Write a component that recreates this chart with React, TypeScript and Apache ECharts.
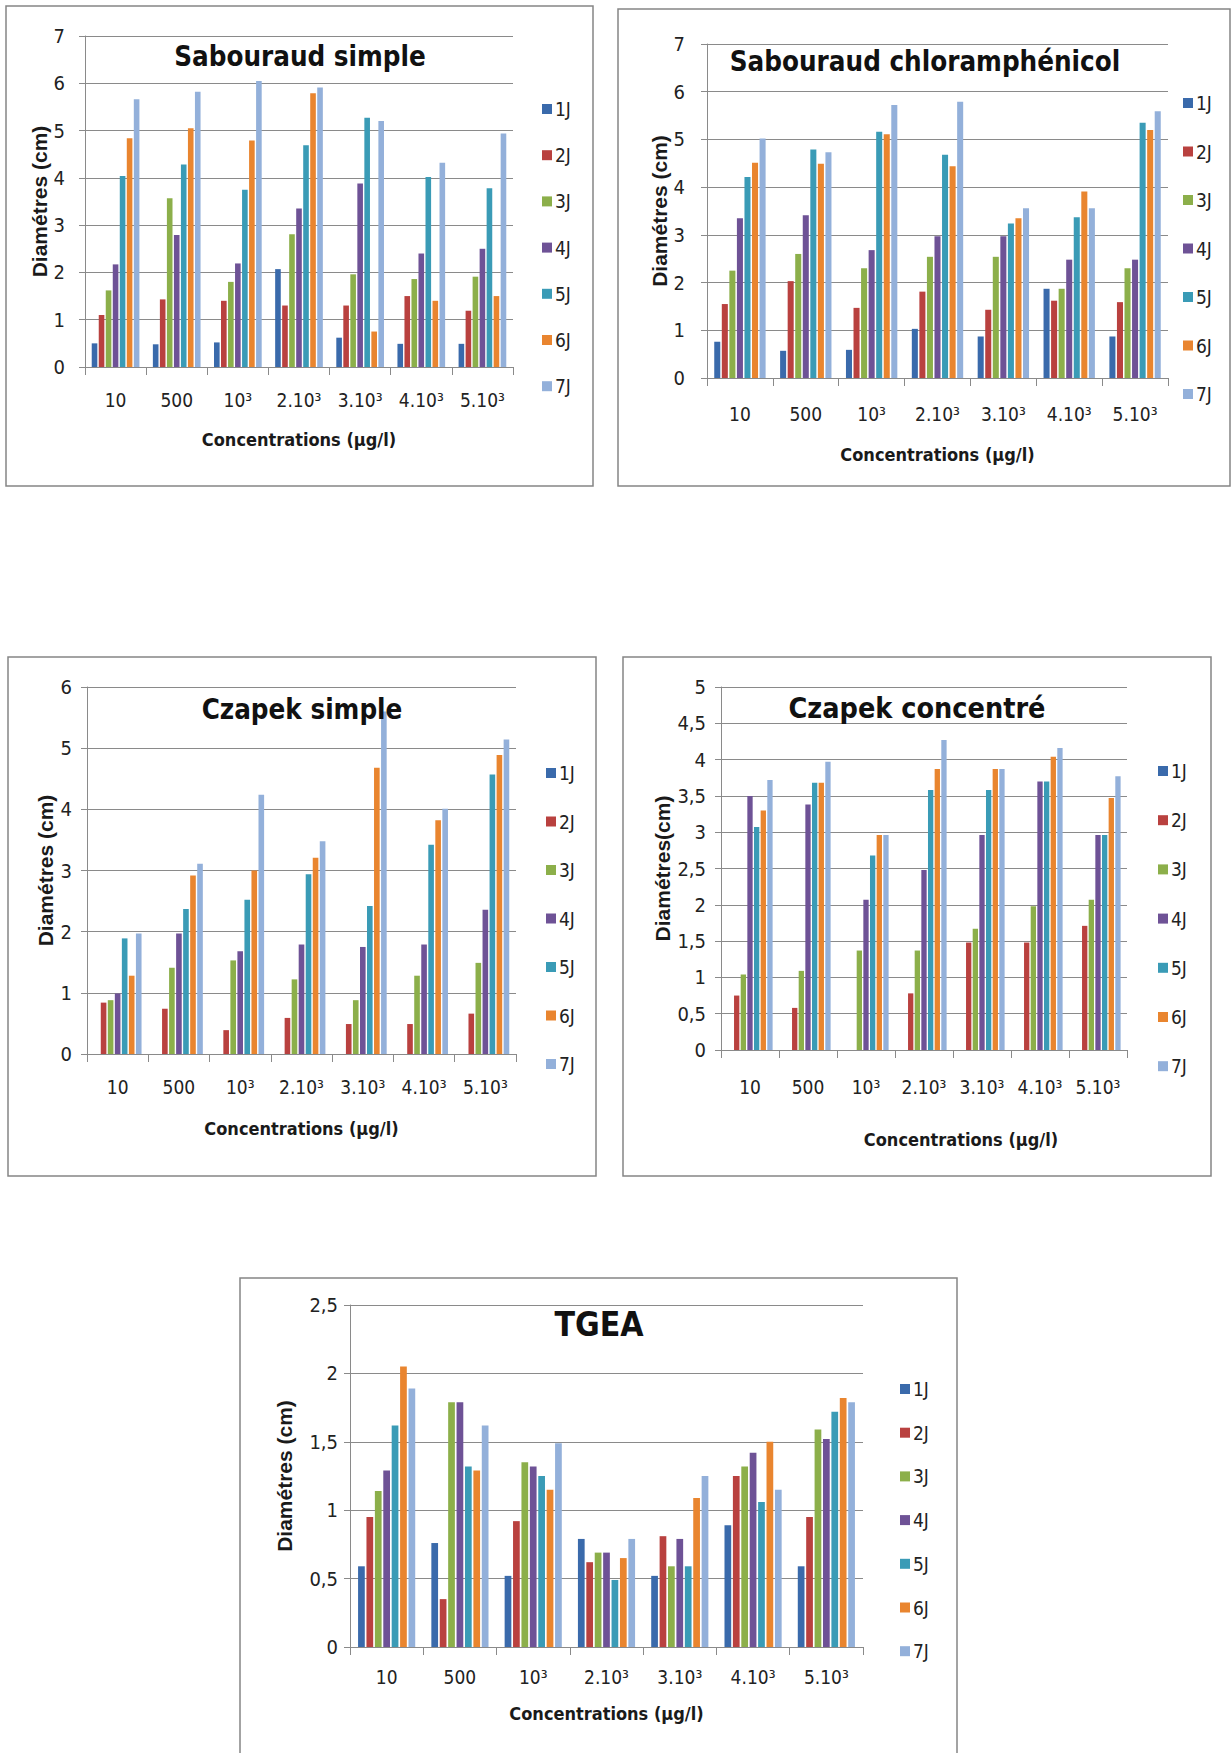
import React, { useEffect, useRef } from 'react';
import * as echarts from 'echarts';

// ---------- data ----------
const categories = ['10', '500', '10³', '2.10³', '3.10³', '4.10³', '5.10³'];
const seriesNames = ['1J', '2J', '3J', '4J', '5J', '6J', '7J'];
const seriesColors = ['#3A6AAB', '#B9413F', '#8CAF4A', '#6E5296', '#3A9BB6', '#E9852F', '#93B0DA'];

// rows = series 1J..7J, columns = categories
const sabouraudSimple = [
  [0.5, 0.48, 0.52, 2.07, 0.62, 0.49, 0.49],
  [1.1, 1.43, 1.4, 1.3, 1.3, 1.5, 1.19],
  [1.62, 3.57, 1.8, 2.81, 1.96, 1.86, 1.91],
  [2.17, 2.79, 2.19, 3.35, 3.88, 2.4, 2.5],
  [4.04, 4.28, 3.75, 4.69, 5.27, 4.02, 3.78],
  [4.84, 5.05, 4.79, 5.79, 0.75, 1.4, 1.5],
  [5.66, 5.82, 6.05, 5.91, 5.2, 4.32, 4.94],
];
const sabouraudChloramphenicol = [
  [0.76, 0.57, 0.59, 1.03, 0.87, 1.87, 0.87],
  [1.55, 2.03, 1.47, 1.81, 1.43, 1.62, 1.59],
  [2.25, 2.6, 2.3, 2.54, 2.54, 1.87, 2.3],
  [3.35, 3.41, 2.68, 2.97, 2.97, 2.48, 2.48],
  [4.21, 4.79, 5.16, 4.68, 3.24, 3.37, 5.35],
  [4.51, 4.49, 5.11, 4.44, 3.35, 3.91, 5.2],
  [5.02, 4.73, 5.72, 5.79, 3.56, 3.56, 5.59],
];
const czapekSimple = [
  [0, 0, 0, 0, 0, 0, 0],
  [0.84, 0.74, 0.39, 0.59, 0.49, 0.49, 0.66],
  [0.88, 1.41, 1.53, 1.22, 0.88, 1.28, 1.49],
  [0.99, 1.97, 1.68, 1.79, 1.75, 1.79, 2.36],
  [1.89, 2.37, 2.52, 2.94, 2.42, 3.42, 4.57],
  [1.28, 2.92, 3.0, 3.21, 4.68, 3.82, 4.89],
  [1.97, 3.11, 4.24, 3.48, 5.6, 4.01, 5.14],
];
const czapekConcentre = [
  [0, 0, 0, 0, 0, 0, 0],
  [0.75, 0.58, 0, 0.78, 1.48, 1.48, 1.71],
  [1.04, 1.09, 1.37, 1.37, 1.67, 1.98, 2.07],
  [3.5, 3.38, 2.07, 2.48, 2.96, 3.7, 2.96],
  [3.07, 3.68, 2.68, 3.58, 3.58, 3.7, 2.96],
  [3.3, 3.68, 2.96, 3.87, 3.87, 4.04, 3.47],
  [3.72, 3.97, 2.96, 4.27, 3.87, 4.16, 3.77],
];
const tgea = [
  [0.59, 0.76, 0.52, 0.79, 0.52, 0.89, 0.59],
  [0.95, 0.35, 0.92, 0.62, 0.81, 1.25, 0.95],
  [1.14, 1.79, 1.35, 0.69, 0.59, 1.32, 1.59],
  [1.29, 1.79, 1.32, 0.69, 0.79, 1.42, 1.52],
  [1.62, 1.32, 1.25, 0.49, 0.59, 1.06, 1.72],
  [2.05, 1.29, 1.15, 0.65, 1.09, 1.5, 1.82],
  [1.89, 1.62, 1.49, 0.79, 1.25, 1.15, 1.79],
];

const chartData = [sabouraudSimple, sabouraudChloramphenicol, czapekSimple, czapekConcentre, tgea];
const chartTitles = ['Sabouraud simple', 'Sabouraud chloramphénicol', 'Czapek simple', 'Czapek concentré', 'TGEA'];
const yAxisNames = ['Diamétres (cm)', 'Diamétres (cm)', 'Diamétres (cm)', 'Diamétres(cm)', 'Diamétres (cm)'];
const xAxisName = 'Concentrations (µg/l)';
const yMax = [7, 7, 6, 5, 2.5];
const yStep = [1, 1, 1, 0.5, 0.5];

// ---------- layout ----------
const NARROW = "'DejaVu Sans Condensed', 'Liberation Sans Narrow', 'Liberation Sans', sans-serif";
const WIDE = "'Liberation Sans', Arial, sans-serif";

const layouts = [
  { box: [6, 6, 587, 480], grid: [85, 36, 428, 331], title: [300, 56, 27.5], legend: [542, 99, 26.2], xMargin: 23, yMargin: 20, yNameGap: 32, xNameGap: 63, xShift: 0 },
  { box: [618, 9, 612, 477], grid: [707, 44, 461, 334], title: [925, 61, 27.5], legend: [1183, 93, 28.5], xMargin: 26, yMargin: 22, yNameGap: 33, xNameGap: 67, xShift: 0 },
  { box: [8, 657, 588, 519], grid: [87, 687, 429, 367], title: [302, 709, 27.5], legend: [546, 763, 28.5], xMargin: 23, yMargin: 15, yNameGap: 31, xNameGap: 65, xShift: 0 },
  { box: [623, 657, 588, 519], grid: [721, 687, 406, 363], title: [917, 709, 28.5], legend: [1158, 761, 29.2], xMargin: 27, yMargin: 15, yNameGap: 48, xNameGap: 80, xShift: 74 },
  { box: [240, 1278, 717, 480], grid: [350, 1305, 513, 342], title: [599, 1325, 33.5], legend: [900, 1379, 23.7], xMargin: 20, yMargin: 12, yNameGap: 55, xNameGap: 57, xShift: 0 },
];

const fmt = (v: number) => String(v).replace('.', ',');

function buildOption() {
  const grid: any[] = [];
  const xAxis: any[] = [];
  const yAxis: any[] = [];
  const title: any[] = [];
  const legend: any[] = [];
  const series: any[] = [];
  const graphic: any[] = [];

  layouts.forEach((L, i) => {
    graphic.push({
      type: 'rect',
      z: -10,
      shape: { x: L.box[0], y: L.box[1], width: L.box[2], height: L.box[3] },
      style: { fill: '#ffffff', stroke: '#858585', lineWidth: 1.5 },
    });
    grid.push({ left: L.grid[0], top: L.grid[1], width: L.grid[2], height: L.grid[3], containLabel: false });
    xAxis.push({
      type: 'category',
      gridIndex: i,
      data: categories,
      boundaryGap: true,
      name: xAxisName,
      nameLocation: 'middle',
      nameGap: L.xNameGap,
      nameTextStyle: { fontFamily: NARROW, fontWeight: 'bold', fontSize: 18, color: '#1a1a1a', padding: [0, 0, 0, L.xShift] },
      axisLine: { show: true, lineStyle: { color: '#8a8a8a', width: 1 } },
      axisTick: { show: true, length: 8, lineStyle: { color: '#8a8a8a' } },
      axisLabel: { fontFamily: NARROW, fontSize: 19, color: '#222', margin: L.xMargin, interval: 0 },
    });
    yAxis.push({
      type: 'value',
      gridIndex: i,
      min: 0,
      max: yMax[i],
      interval: yStep[i],
      name: yAxisNames[i],
      nameLocation: 'middle',
      nameGap: L.yNameGap,
      nameTextStyle: { fontFamily: WIDE, fontWeight: 'bold', fontSize: 21, color: '#1a1a1a' },
      axisLine: { show: true, lineStyle: { color: '#8a8a8a', width: 1 } },
      axisTick: { show: true, length: 6, lineStyle: { color: '#8a8a8a' } },
      splitLine: { show: true, lineStyle: { color: '#8a8a8a', width: 1 } },
      axisLabel: { fontFamily: NARROW, fontSize: 20, color: '#222', margin: L.yMargin, formatter: fmt },
    });
    const fs = L.title[2];
    title.push({
      text: chartTitles[i],
      left: L.title[0],
      top: L.title[1] - fs * 0.6,
      textAlign: 'center',
      padding: 0,
      textStyle: { fontFamily: NARROW, fontWeight: 'bold', fontSize: fs, lineHeight: fs * 1.2, color: '#111' },
    });
    legend.push({
      data: seriesNames,
      orient: 'vertical',
      left: L.legend[0],
      top: L.legend[1],
      itemGap: L.legend[2],
      itemWidth: 10,
      itemHeight: 10,
      icon: 'rect',
      padding: 0,
      selectedMode: false,
      textStyle: { fontFamily: NARROW, fontSize: 19, lineHeight: 20, color: '#222', padding: [0, 0, 0, -2] },
    });
    chartData[i].forEach((row, j) => {
      series.push({
        type: 'bar',
        name: seriesNames[j],
        xAxisIndex: i,
        yAxisIndex: i,
        data: row,
        barGap: '25%',
        barCategoryGap: '22%',
        itemStyle: { color: seriesColors[j] },
      });
    });
  });

  return { animation: false, backgroundColor: '#ffffff', grid, xAxis, yAxis, title, legend, series, graphic };
}

export default function App() {
  const ref = useRef<HTMLDivElement>(null);
  useEffect(() => {
    if (!ref.current) return;
    const chart = echarts.init(ref.current, null, { renderer: 'svg' });
    chart.setOption(buildOption());
    return () => chart.dispose();
  }, []);
  return <div ref={ref} style={{ position: 'absolute', left: 0, top: 0, width: 1231, height: 1753 }} />;
}
